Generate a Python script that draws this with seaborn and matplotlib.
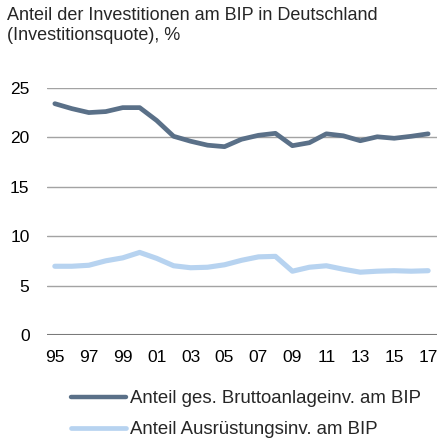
import pandas as pd
import seaborn as sns
import matplotlib.pyplot as plt

years = list(range(1995, 2018))
brutto = [23.4, 22.9, 22.5, 22.6, 23.0, 23.0, 21.7, 20.1, 19.6, 19.2, 19.05, 19.8,
          20.2, 20.4, 19.15, 19.45, 20.35, 20.15, 19.65, 20.05, 19.9, 20.1, 20.35]
ausruest = [6.95, 6.95, 7.05, 7.5, 7.8, 8.35, 7.75, 7.0, 6.8, 6.85, 7.1, 7.55,
            7.9, 7.95, 6.45, 6.85, 7.0, 6.65, 6.35, 6.45, 6.5, 6.45, 6.5]
labels = ["Anteil ges. Bruttoanlageinv. am BIP", "Anteil Ausrüstungsinv. am BIP"]
tick_years = list(range(1995, 2018, 2))

df = pd.DataFrame({
    "Jahr": years * 2,
    "Wert": brutto + ausruest,
    "Reihe": [labels[0]] * len(years) + [labels[1]] * len(years),
})

sns.set_theme(style="white")
plt.rcParams["font.family"] = ["Liberation Sans", "DejaVu Sans"]

colors = ["#5a7088", "#b7d3f0"]

fig = plt.figure(figsize=(4.38, 4.46), dpi=100)
ax = fig.add_axes([0.107, 0.249, 0.891, 0.554])

sns.lineplot(data=df, x="Jahr", y="Wert", hue="Reihe",
             palette=colors, linewidth=3.4, ax=ax, legend=False)
ax.lines[1].set_linewidth(3.7)

for v in [5, 10, 15, 20, 25]:
    ax.axhline(v, color="#a3a3a3", linewidth=1, zorder=0)
ax.axhline(0, color="#7a7a7a", linewidth=1.5, zorder=0)

ax.set_xlim(1994.53, 2017.53)
ax.set_ylim(0, 25)
ax.set_yticks([0, 5, 10, 15, 20, 25])
ax.set_xticks(tick_years)
ax.set_xticklabels([f"{y % 100:02d}" for y in tick_years])
ax.tick_params(axis="both", length=0, labelsize=12.5, colors="black")
ax.tick_params(axis="x", pad=10.5)
ax.tick_params(axis="y", pad=12.5)
for s in ax.spines.values():
    s.set_visible(False)
ax.set_xlabel("")
ax.set_ylabel("")

fig.text(0.017, 0.985, "Anteil der Investitionen am BIP in Deutschland\n(Investitionsquote), %",
         fontsize=13, va="top", ha="left", linespacing=1.22)

handles = [plt.Line2D([], [], color=colors[0], linewidth=3.2),
           plt.Line2D([], [], color=colors[1], linewidth=3.4)]
fig.legend(handles, labels, loc="upper left", bbox_to_anchor=(0.162, 0.125),
           frameon=False, fontsize=13.4, handlelength=2.96, handletextpad=0.2,
           labelspacing=0.75, borderaxespad=0, borderpad=0)

fig.savefig("out.png", dpi=100)
